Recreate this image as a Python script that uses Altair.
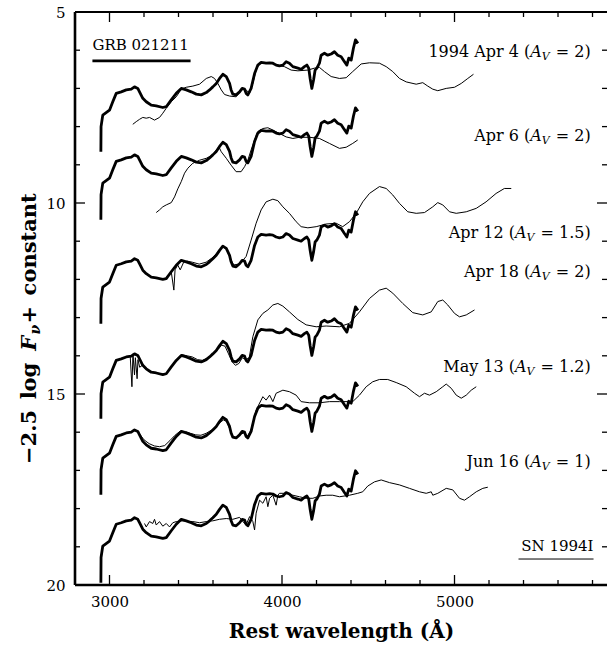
import altair as alt
import pandas as pd

# ---------------- data (wavelength in Angstrom, -2.5 log F_nu + const) ----------------
grb_wl = [2950, 2951, 2961, 3000, 3019, 3039, 3068, 3097, 3126, 3145,
          3164, 3174, 3193, 3213, 3242, 3271, 3309, 3329, 3358, 3387,
          3416, 3445, 3474, 3503, 3532, 3561, 3580, 3599, 3619, 3638,
          3657, 3677, 3696, 3705, 3715, 3734, 3754, 3769, 3783, 3792,
          3802, 3821, 3841, 3860, 3879, 3908, 3928, 3947, 3966, 3985,
          4005, 4024, 4043, 4063, 4092, 4111, 4130, 4144, 4155, 4163,
          4173, 4183, 4192, 4202, 4217, 4227, 4246, 4265, 4285, 4304,
          4323, 4343, 4362, 4376, 4387, 4401, 4414, 4426, 4440]
grb_mag = [8.66, 8.00, 7.70, 7.57, 7.35, 7.13, 7.09, 7.04, 7.02, 6.96,
           7.00, 7.09, 7.26, 7.35, 7.44, 7.46, 7.50, 7.48, 7.30, 7.13,
           7.00, 7.04, 7.09, 7.15, 7.17, 7.11, 7.04, 6.96, 6.87, 6.74,
           6.63, 6.69, 6.87, 7.04, 7.15, 7.17, 7.09, 7.00, 7.02, 7.13,
           7.17, 7.00, 6.61, 6.39, 6.32, 6.34, 6.33, 6.34, 6.39, 6.41,
           6.39, 6.30, 6.34, 6.43, 6.47, 6.50, 6.43, 6.39, 6.47, 6.74,
           7.00, 6.78, 6.52, 6.47, 6.34, 6.13, 6.08, 6.13, 6.10, 6.04,
           6.13, 6.17, 6.30, 6.39, 6.21, 6.26, 5.95, 5.73, 5.82]
grb_offsets = [0.0, 1.78, 4.50, 6.99, 8.98, 11.28]

apr4_wl = [3135, 3155, 3174, 3193, 3213, 3232, 3261, 3290, 3309, 3329,
           3358, 3387, 3416, 3445, 3483, 3522, 3561, 3590, 3609, 3628,
           3648, 3667, 3696, 3734, 3754, 3773, 3792, 3812, 3831, 3850,
           3870, 3899, 3937, 3976, 4014, 4053, 4092, 4150, 4188, 4217,
           4246, 4285, 4333, 4372, 4410, 4459, 4507, 4565, 4604, 4642,
           4681, 4720, 4778, 4816, 4845, 4874, 4903, 4952, 5000, 5039,
           5077, 5110]
apr4_mag = [7.94, 7.87, 7.81, 7.76, 7.78, 7.76, 7.83, 7.76, 7.65, 7.52,
            7.35, 7.22, 7.02, 6.97, 6.94, 6.89, 6.74, 6.69, 6.74, 6.87,
            7.04, 7.16, 7.20, 7.22, 7.11, 7.02, 7.04, 7.13, 6.87, 6.52,
            6.34, 6.32, 6.34, 6.39, 6.43, 6.52, 6.54, 6.52, 6.47, 6.45,
            6.56, 6.69, 6.74, 6.72, 6.56, 6.36, 6.33, 6.34, 6.43, 6.56,
            6.74, 6.83, 6.89, 6.85, 6.94, 7.02, 7.06, 7.00, 6.97, 6.87,
            6.74, 6.63]

apr6_wl = [3271, 3290, 3309, 3329, 3358, 3377, 3396, 3416, 3435, 3454,
           3483, 3522, 3561, 3599, 3619, 3634, 3648, 3677, 3705, 3734,
           3763, 3783, 3802, 3821, 3841, 3860, 3889, 3918, 3947, 3985,
           4024, 4063, 4101, 4159, 4217, 4275, 4333, 4372, 4410, 4439]
apr6_mag = [10.25, 10.18, 10.10, 10.05, 9.99, 9.84, 9.63, 9.44, 9.22, 9.09,
            8.96, 8.88, 8.83, 8.74, 8.61, 8.53, 8.66, 8.83, 9.01, 9.18,
            9.18, 9.05, 8.88, 8.61, 8.35, 8.13, 8.05, 8.03, 8.09, 8.18,
            8.27, 8.31, 8.28, 8.28, 8.31, 8.44, 8.57, 8.54, 8.44, 8.35]

apr12_wl = [3329, 3358, 3373, 3380, 3395, 3410, 3430, 3450, 3480, 3520,
            3560, 3600, 3640, 3660, 3680, 3700, 3720, 3750, 3770, 3792,
            3821, 3850, 3879, 3908, 3947, 3976, 4005, 4043, 4082, 4111,
            4150, 4198, 4256, 4314, 4352, 4391, 4430, 4468, 4507, 4565,
            4604, 4642, 4681, 4729, 4778, 4826, 4874, 4903, 4932, 4971,
            5010, 5068, 5126, 5183, 5241, 5289, 5329]
apr12_mag = [11.95, 11.80, 12.28, 11.75, 11.62, 11.75, 11.55, 11.52, 11.55, 11.60,
             11.55, 11.42, 11.22, 11.15, 11.22, 11.45, 11.62, 11.60, 11.52, 11.40,
             10.97, 10.53, 10.18, 9.97, 9.90, 9.94, 10.10, 10.27, 10.49, 10.62,
             10.65, 10.62, 10.55, 10.53, 10.62, 10.49, 10.27, 9.97, 9.75, 9.57,
             9.62, 9.79, 10.01, 10.23, 10.27, 10.25, 10.10, 9.99, 10.05, 10.23,
             10.27, 10.23, 10.14, 9.97, 9.75, 9.62, 9.62]

apr18_wl = [3120, 3130, 3136, 3145, 3150, 3160, 3165, 3175, 3190, 3210,
            3240, 3270, 3310, 3330, 3360, 3390, 3420, 3450, 3480, 3510,
            3540, 3570, 3600, 3630, 3650, 3670, 3690, 3710, 3730, 3750,
            3770, 3790, 3810, 3831, 3860, 3889, 3918, 3947, 3976, 4005,
            4043, 4092, 4140, 4198, 4256, 4333, 4391, 4449, 4507, 4565,
            4604, 4642, 4700, 4758, 4816, 4865, 4903, 4932, 4961, 5000,
            5029, 5068, 5116]
apr18_mag = [14.00, 14.81, 13.95, 14.50, 14.05, 14.60, 14.10, 14.30, 14.25, 14.35,
             14.42, 14.45, 14.48, 14.46, 14.28, 14.10, 13.97, 14.00, 14.03, 14.10,
             14.12, 14.05, 13.95, 13.83, 13.72, 13.75, 13.95, 14.15, 14.25, 14.20,
             14.05, 14.10, 14.05, 13.50, 13.06, 12.89, 12.80, 12.67, 12.63, 12.70,
             12.85, 13.05, 13.19, 13.24, 13.22, 13.24, 13.15, 12.85, 12.50, 12.28,
             12.23, 12.36, 12.63, 12.87, 12.93, 12.85, 12.58, 12.54, 12.67, 12.89,
             12.98, 12.93, 12.80]

may13_wl = [3150, 3175, 3200, 3230, 3260, 3290, 3320, 3350, 3380, 3410,
            3440, 3470, 3500, 3530, 3560, 3590, 3620, 3640, 3660, 3680,
            3700, 3720, 3740, 3760, 3780, 3800, 3820, 3850, 3889, 3908,
            3928, 3947, 3966, 4005, 4043, 4082, 4111, 4159, 4217, 4275,
            4333, 4410, 4449, 4488, 4526, 4565, 4613, 4662, 4720, 4768,
            4797, 4826, 4855, 4894, 4932, 4952, 4981, 5010, 5039, 5068,
            5097, 5126]
may13_mag = [15.93, 16.05, 16.20, 16.30, 16.36, 16.38, 16.35, 16.22, 16.08, 15.97,
             15.98, 16.03, 16.07, 16.08, 16.03, 15.95, 15.85, 15.75, 15.68, 15.72,
             15.95, 16.15, 16.15, 16.05, 16.02, 16.10, 15.95, 15.42, 15.07, 15.16,
             15.03, 15.20, 14.98, 14.90, 14.94, 15.03, 15.20, 15.23, 15.23, 15.20,
             15.20, 15.20, 15.03, 14.81, 14.68, 14.62, 14.62, 14.70, 14.81, 14.98,
             15.07, 14.98, 15.03, 14.94, 14.81, 14.74, 14.85, 15.03, 15.11, 15.03,
             14.90, 14.81]

jun16_wl = [3203, 3213, 3232, 3251, 3261, 3271, 3290, 3309, 3329, 3348,
            3367, 3387, 3425, 3483, 3522, 3561, 3599, 3638, 3677, 3715,
            3754, 3773, 3792, 3812, 3831, 3841, 3850, 3870, 3889, 3908,
            3918, 3928, 3947, 3966, 3976, 3985, 4024, 4063, 4101, 4140,
            4179, 4217, 4256, 4294, 4333, 4391, 4439, 4468, 4497, 4536,
            4575, 4623, 4681, 4739, 4797, 4836, 4865, 4874, 4903, 4952,
            4990, 5029, 5058, 5087, 5126, 5164, 5193]
jun16_mag = [18.39, 18.48, 18.34, 18.39, 18.28, 18.43, 18.34, 18.46, 18.39, 18.48,
             18.37, 18.34, 18.32, 18.34, 18.37, 18.34, 18.32, 18.28, 18.26, 18.28,
             18.23, 18.34, 18.43, 18.21, 18.34, 18.56, 18.12, 17.78, 17.86, 17.69,
             17.95, 17.73, 17.65, 17.91, 17.65, 17.60, 17.60, 17.65, 17.69, 17.73,
             17.73, 17.67, 17.65, 17.65, 17.69, 17.65, 17.60, 17.56, 17.41, 17.30,
             17.25, 17.32, 17.38, 17.47, 17.56, 17.60, 17.56, 17.65, 17.60, 17.47,
             17.51, 17.73, 17.78, 17.69, 17.56, 17.47, 17.44]

x_major = [3000, 4000, 5000]
x_minor = [3200, 3400, 3600, 3800, 4200, 4400, 4600, 4800, 5200, 5400, 5600, 5800]
y_major = [5, 10, 15, 20]
y_minor = [6, 7, 8, 9, 11, 12, 13, 14, 16, 17, 18, 19]

# epoch labels: head text, A_V tail, y position (mag)
lab_head = ["1994 Apr 4 (", "Apr 6 (", "Apr 12 (", "Apr 18 (", "May 13 (", "Jun 16 ("]
lab_tail = [" = 2)", " = 2)", " = 1.5)", " = 2)", " = 1.2)", " = 1)"]
lab_y = [6.05, 8.25, 10.79, 11.80, 14.29, 16.78]

# ---------------- build tables ----------------
W, H = 532, 573
X_DOM = [2800, 5884]
xs = alt.Scale(domain=X_DOM, nice=False, zero=False)
ys = alt.Scale(domain=[5, 20], reverse=True, nice=False, zero=False)

rows = []
for k, off in enumerate(grb_offsets):
    for i, (w, m) in enumerate(zip(grb_wl, grb_mag)):
        rows.append({"wl": w, "mag": round(m + off, 3), "s": f"g{k}", "i": i})
grb_df = pd.DataFrame(rows)

thin_sets = [(apr4_wl, apr4_mag), (apr6_wl, apr6_mag), (apr12_wl, apr12_mag),
             (apr18_wl, apr18_mag), (may13_wl, may13_mag), (jun16_wl, jun16_mag)]
rows = []
for k, (wl, mg) in enumerate(thin_sets):
    for i, (w, m) in enumerate(zip(wl, mg)):
        rows.append({"wl": w, "mag": m, "s": f"t{k}", "i": i})
thin_df = pd.DataFrame(rows)

FONT = "DejaVu Serif"
x_axis = alt.Axis(values=x_major, ticks=False, domain=False, grid=False, format="d",
                  labelFont=FONT, labelFontSize=15, labelColor="black", labelPadding=9,
                  labelFlush=False, title="Rest wavelength (Å)", titleFont=FONT,
                  titleFontSize=20, titleFontWeight="bold", titleColor="black",
                  titlePadding=12)
y_axis = alt.Axis(values=y_major, ticks=False, domain=False, grid=False, format="d",
                  labelFont=FONT, labelFontSize=15, labelColor="black", labelPadding=10,
                  labelFlush=False, title=None)

X = lambda f: alt.X(f, scale=xs, axis=x_axis)
Y = lambda f: alt.Y(f, scale=ys, axis=y_axis)

thick = alt.Chart(grb_df).mark_line(color="black", strokeWidth=2.8, strokeJoin="round").encode(
    x=X("wl:Q"), y=Y("mag:Q"), detail="s:N", order="i:Q")
thin = alt.Chart(thin_df).mark_line(color="black", strokeWidth=1.0, strokeJoin="round").encode(
    x=X("wl:Q"), y=Y("mag:Q"), detail="s:N", order="i:Q")

one = pd.DataFrame({"a": [0]})

def xticks(vals, y0, y1):
    return alt.Chart(pd.DataFrame({"wl": vals})).mark_rule(color="black", strokeWidth=1.3).encode(
        x=X("wl:Q"), y=alt.value(y0), y2=alt.value(y1))

def yticks(vals, x0, x1):
    return alt.Chart(pd.DataFrame({"mag": vals})).mark_rule(color="black", strokeWidth=1.3).encode(
        y=Y("mag:Q"), x=alt.value(x0), x2=alt.value(x1))

ticks = [xticks(x_major, H, H - 10), xticks(x_minor, H, H - 5),
         xticks(x_major, 0, 10), xticks(x_minor, 0, 5),
         yticks(y_major, 0, 10), yticks(y_minor, 0, 5),
         yticks(y_major, W, W - 10), yticks(y_minor, W, W - 5)]

frame_left = alt.Chart(one).mark_rule(color="black", strokeWidth=2.6).encode(
    x=alt.value(0), y=alt.value(0), y2=alt.value(H))
frame_bottom = alt.Chart(one).mark_rule(color="black", strokeWidth=2.6).encode(
    x=alt.value(0), x2=alt.value(W), y=alt.value(H))
frame_top = alt.Chart(one).mark_rule(color="black", strokeWidth=1.8).encode(
    x=alt.value(0), x2=alt.value(W), y=alt.value(0))

# ---- epoch labels, right aligned ----
X_END = 5790.0
PX = (X_DOM[1] - X_DOM[0]) / W  # Angstrom per pixel
LS = 16
CW = {" ": 0.318, "=": 0.838, ".": 0.318, ")": 0.390, "(": 0.390}
def width(s, size):
    return sum(CW.get(c, 0.636) for c in s) * size

lab_rows_head, lab_rows_a, lab_rows_v, lab_rows_tail = [], [], [], []
for h, t, y in zip(lab_head, lab_tail, lab_y):
    wt = width(t, LS) + 1
    wv = 8.0
    wa = 11.5
    lab_rows_tail.append({"wl": X_END, "mag": y, "t": t})
    lab_rows_v.append({"wl": X_END - wt * PX, "mag": y, "t": "V"})
    lab_rows_a.append({"wl": X_END - (wt + wv) * PX, "mag": y, "t": "A"})
    lab_rows_head.append({"wl": X_END - (wt + wv + wa) * PX, "mag": y, "t": h})

def text_layer(rows, align="right", **kw):
    return alt.Chart(pd.DataFrame(rows)).mark_text(color="black", font=FONT, align=align,
                                                  baseline="middle", **kw).encode(
        x=X("wl:Q"), y=Y("mag:Q"), text="t:N")

labels = [text_layer(lab_rows_head, fontSize=LS),
          text_layer(lab_rows_a, fontSize=LS, fontStyle="italic"),
          text_layer(lab_rows_v, fontSize=11, fontStyle="italic", dy=5),
          text_layer(lab_rows_tail, fontSize=LS)]

grb_label = text_layer([{"wl": 2901, "mag": 5.86, "t": "GRB 021211"}], align="left", fontSize=15)
grb_line = alt.Chart(pd.DataFrame({"wl": [2901], "wl2": [3470], "mag": [6.28]})).mark_rule(
    color="black", strokeWidth=2.6).encode(x=X("wl:Q"), x2="wl2:Q", y=Y("mag:Q"))
sn_label = text_layer([{"wl": 5806, "mag": 18.98, "t": "SN 1994I"}], align="right", fontSize=15)
sn_line = alt.Chart(pd.DataFrame({"wl": [5371], "wl2": [5806], "mag": [19.32]})).mark_rule(
    color="black", strokeWidth=1.0).encode(x=X("wl:Q"), x2="wl2:Q", y=Y("mag:Q"))

# ---- y-axis title built from pieces (rotated, reading upward) ----
TS = 21
EN = "\u2002"
def ytext(txt, xpix, ypix, size=TS, **kw):
    return alt.Chart(one).mark_text(color="black", font=FONT, fontSize=size, fontWeight="bold",
                                    angle=270, align="left", baseline="middle", **kw).encode(
        x=alt.value(xpix), y=alt.value(ypix), text=alt.value(txt))

BW = {"−": 0.838, "2": 0.696, ".": 0.380, "5": 0.696, EN: 0.5, "l": 0.38, "o": 0.687,
      "g": 0.716, "+": 0.838, "c": 0.593, "n": 0.757, "s": 0.595, "t": 0.478, "a": 0.675}
def bwidth(s, size):
    return sum(BW.get(c, 0.65) for c in s) * size

p1 = "−2.5" + EN + "log" + EN
p4 = EN + "+" + EN + "constant"
y0 = 452.0
y1 = y0 - bwidth(p1, TS)
y2 = y1 - 0.77 * TS
y3 = y2 - 0.65 * 14 - 2
ytitle = [ytext(p1, -45, y0), ytext("F", -45, y1, fontStyle="italic"),
          ytext("ν", -39, y2, size=14, fontStyle="italic"), ytext(p4, -45, y3)]

chart = alt.layer(thin, thick, *ticks, frame_left, frame_bottom, frame_top,
                  *labels, grb_label, grb_line, sn_label, sn_line, *ytitle).properties(
    width=W, height=H,
    autosize=alt.AutoSizeParams(type="none"),
    padding={"left": 75, "top": 12, "right": 0, "bottom": 63},
).configure_view(stroke=None).configure(background="white")

chart.save("out.html", embed_options={"renderer": "svg", "actions": False})
